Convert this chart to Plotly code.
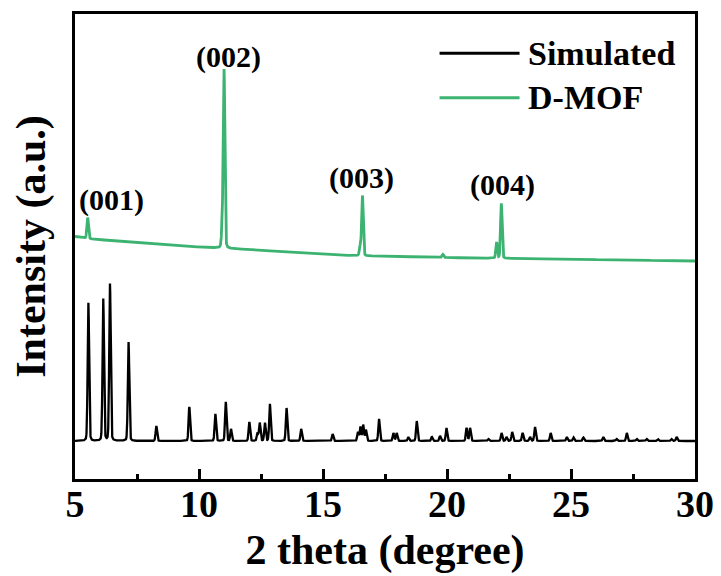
import numpy as np
import plotly.graph_objects as go

# ---------------- data ----------------
# Simulated pattern: peak positions (2theta, deg) and relative intensities (a.u.)
sim_pos = [5.54, 6.14, 6.41, 7.16, 8.28, 9.61, 10.66, 11.08, 11.29, 12.03,
           12.36, 12.45, 12.66, 12.86, 13.53, 14.12, 15.39, 16.41, 16.51, 16.62,
           16.73, 17.26, 17.84, 17.97, 18.44, 18.78, 19.39, 19.72, 19.98, 20.79,
           20.93, 21.67, 22.20, 22.40, 22.63, 23.05, 23.35, 23.55, 24.18, 24.83,
           25.10, 25.50, 26.30, 26.84, 27.25, 27.65, 28.05, 28.50, 29.05, 29.26]
sim_int = [138, 142, 157, 99, 15, 34, 27, 39, 12, 19,
           8, 18, 18, 37, 33, 12, 7, 9, 14, 16,
           11, 22, 8, 8, 4, 20, 4, 5, 13, 13,
           13, 2, 8, 4, 9, 8, 4, 14, 8, 4,
           3.5, 3.5, 4, 2, 8, 2, 2, 2, 2, 4]

# D-MOF pattern: reflections and background
mof_pos = [5.51, 10.94, 11.01, 16.50, 16.59, 19.83, 22.00, 22.19]
mof_int = [21, 20, 177, 9, 60, 3, 16, 55]
mof_base_x = [5.0, 5.5, 6, 7, 8, 9, 10, 11, 12, 13, 14, 15, 16, 17, 18, 19,
              20, 21, 22, 23, 24, 25, 26, 27, 28, 29, 30]
mof_base_y = [204.5, 202.5, 201.3, 199.5, 197.2, 195.5, 194.0, 192.7, 191.5, 190.0,
              188.5, 187.0, 185.5, 185.0, 184.5, 184.0, 183.5, 183.0, 182.7, 182.3,
              182.0, 181.6, 181.3, 181.0, 180.6, 180.3, 180.0]

hkl_labels = ["(001)", "(002)", "(003)", "(004)"]
hkl_x = [6.49, 11.19, 16.57, 22.22]
hkl_y = [241, 384, 263, 256]

x_ticks = [5, 10, 15, 20, 25, 30]

# ---------------- build profiles ----------------
tt = np.linspace(5.0, 30.0, 5001)


def profile(pos, inten, fwhm):
    y = np.zeros_like(tt)
    s = fwhm / 2.3548
    g = fwhm / 2.0
    for p, h in zip(pos, inten):
        gauss = np.exp(-0.5 * ((tt - p) / s) ** 2)
        lor = 1.0 / (1.0 + ((tt - p) / g) ** 2)
        y += h * (0.85 * gauss + 0.15 * lor)
    return y


sim_y = profile(sim_pos, sim_int, 0.07)
mof_y = np.interp(tt, mof_base_x, mof_base_y) + profile(mof_pos, mof_int, 0.075)

FONT = "Liberation Serif, Times New Roman, serif"
GREEN = "#3cb371"

fig = go.Figure()
fig.add_trace(go.Scatter(x=tt, y=sim_y, mode="lines", name="Simulated",
                         line=dict(color="black", width=2.3), showlegend=False))
fig.add_trace(go.Scatter(x=tt, y=mof_y, mode="lines", name="D-MOF",
                         line=dict(color=GREEN, width=2.8), showlegend=False))

annotations = []
for t, xx, yy in zip(hkl_labels, hkl_x, hkl_y):
    annotations.append(dict(x=xx, y=yy, xref="x", yref="y", text=t, showarrow=False,
                            font=dict(size=30, family=FONT, color="black", weight="bold"),
                            xanchor="center", yanchor="middle"))

# legend (drawn manually to get long sample lines)
legend_items = [("Simulated", "black", 0.9155), ("D-MOF", GREEN, 0.820)]
shapes = []
for name, col, yp in legend_items:
    shapes.append(dict(type="line", xref="paper", yref="paper", x0=0.588, x1=0.717,
                       y0=yp, y1=yp, line=dict(color=col, width=3)))
    annotations.append(dict(x=0.728, y=yp, xref="paper", yref="paper", text=name,
                            showarrow=False, xanchor="left", yanchor="middle",
                            font=dict(size=34, family=FONT, color="black", weight="bold")))

fig.update_layout(
    width=721, height=576,
    margin=dict(l=67, r=34, t=6, b=105, autoexpand=False),
    paper_bgcolor="white", plot_bgcolor="white",
    font=dict(family=FONT, color="black", weight="bold"),
    showlegend=False,
    annotations=annotations,
    shapes=shapes,
)
fig.update_xaxes(
    range=[5, 30], tickvals=x_ticks, ticktext=[str(v) for v in x_ticks],
    ticks="inside", ticklen=10, tickwidth=2.5, tickcolor="black",
    minor=dict(ticks="inside", ticklen=5, tickwidth=2.5, tickcolor="black", dtick=2.5, tick0=5),
    showline=True, linewidth=2.5, linecolor="black", mirror=True,
    showgrid=False, zeroline=False, automargin=False,
    ticklabelstandoff=-10,
    tickfont=dict(size=38, family=FONT, color="black", weight="bold"),
    title=dict(text="2 theta (degree)", standoff=11,
               font=dict(size=42, family=FONT, color="black", weight="bold")),
)
fig.update_yaxes(
    range=[-38, 427], showticklabels=False, ticks="",
    showline=True, linewidth=2.5, linecolor="black", mirror=True,
    showgrid=False, zeroline=False, automargin=False,
    title=dict(text="Intensity (a.u.)", standoff=15,
               font=dict(size=42, family=FONT, color="black", weight="bold")),
)

fig.write_html("out.html")
